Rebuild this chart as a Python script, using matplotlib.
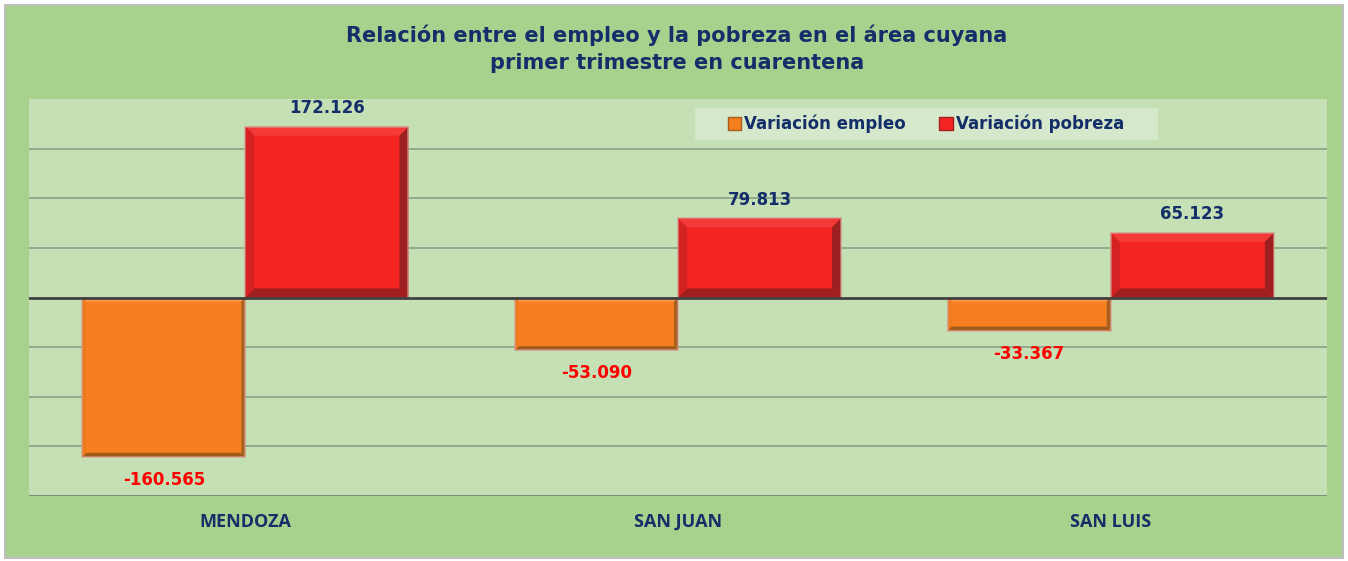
import numpy as np
import matplotlib
matplotlib.use('Agg')
import matplotlib.pyplot as plt
from matplotlib.patches import Rectangle, Polygon, Patch

# Data
provincias = ['MENDOZA', 'SAN JUAN', 'SAN LUIS']
var_empleo = [-160.565, -53.090, -33.367]
var_pobreza = [172.126, 79.813, 65.123]
series_names = ['Variación empleo', 'Variación pobreza']

titulo = 'Relación entre el empleo y la pobreza en el área cuyana\nprimer trimestre en cuarentena'

navy = '#132E68'
c_orange = '#F67F20'
c_red = '#F52523'

fig = plt.figure(figsize=(13.48, 5.61), dpi=100)
fig.patch.set_facecolor('white')
# outer green chart area with thin gray border
fig.patches.append(Rectangle((5 / 1348, 3 / 561), 1338 / 1348, 553 / 561,
                             transform=fig.transFigure, facecolor='#A9D18E',
                             edgecolor='#BFBFBF', linewidth=1.5, zorder=-5))

ax = fig.add_axes([29 / 1348, 1 - 496 / 561, 1298 / 1348, 397 / 561])
ax.set_facecolor('#C5E0B4')
ax.set_ylim(-200, 200)
ax.set_xlim(-0.5, 2.5)

x = np.arange(len(provincias))
w = 0.377
b1 = ax.bar(x - w / 2, var_empleo, w, color=c_orange, zorder=3)
b2 = ax.bar(x + w / 2, var_pobreza, w, color=c_red, zorder=3)

# gridlines
for yv in np.arange(-150, 200, 50):
    if yv == 0:
        continue
    ax.axhline(yv, color='#8FA58A', linewidth=1.3, zorder=1)
ax.axhline(0, color='#404040', linewidth=2, zorder=5)
ax.axhline(-200, color='#7F8F7A', linewidth=1.5, zorder=1)

ax.set_yticks([])
ax.set_xticks(x)
ax.set_xticklabels(provincias, fontsize=13, fontweight='bold', color=navy,
                   family=['Open Sans', 'DejaVu Sans'])
ax.tick_params(axis='x', length=0, pad=12)
for s in ax.spines.values():
    s.set_visible(False)

# bevel effect on bars (computed from bar geometry)
fig.canvas.draw()
to_disp = ax.transData
to_data = ax.transData.inverted()
# top, left, right, bottom facet colours and bevel depth in pixels
bevel = {'empleo': (('#F99E4E', '#EE7A1E', '#A8601E', '#A05A1C'), 4),
         'pobreza': (('#F43A36', '#D42222', '#9E1F1F', '#A01E1E'), 9)}
for bars, key in ((b1, 'empleo'), (b2, 'pobreza')):
    (top, left, right, bottom), d = bevel[key]
    for bar in bars:
        bx, by = bar.get_x(), bar.get_y()
        bw, bh = bar.get_width(), bar.get_height()
        (x0, y0) = to_disp.transform((bx, min(by, by + bh)))
        (x1, y1) = to_disp.transform((bx + bw, max(by, by + bh)))
        outer = [(x0, y1), (x1, y1), (x1, y0), (x0, y0)]
        inner = [(x0 + d, y1 - d), (x1 - d, y1 - d), (x1 - d, y0 + d), (x0 + d, y0 + d)]
        faces = [(top, [outer[0], outer[1], inner[1], inner[0]]),
                 (right, [outer[1], outer[2], inner[2], inner[1]]),
                 (bottom, [outer[2], outer[3], inner[3], inner[2]]),
                 (left, [outer[3], outer[0], inner[0], inner[3]])]
        for col, pts in faces:
            ax.add_patch(Polygon(to_data.transform(pts), closed=True, facecolor=col,
                                 edgecolor='none', zorder=4))
        ax.add_patch(Rectangle((bx, by), bw, bh, facecolor='none',
                               edgecolor='#D89A90', linewidth=1.2, alpha=0.7, zorder=4))

# value labels
for bars, vals in ((b1, var_empleo), (b2, var_pobreza)):
    for bar, v in zip(bars, vals):
        cx = bar.get_x() + bar.get_width() / 2
        if v < 0:
            ax.annotate(f'{v:.3f}', (cx, v), xytext=(0, -10), textcoords='offset points',
                        ha='center', va='top', color='#FF0000', fontsize=12,
                        fontweight='bold', zorder=6)
        else:
            ax.annotate(f'{v:.3f}', (cx, v), xytext=(0, 7), textcoords='offset points',
                        ha='center', va='bottom', color=navy, fontsize=12,
                        fontweight='bold', zorder=6)

# title
fig.text(677 / 1348, 1 - 49 / 561, titulo, ha='center', va='center', fontsize=15,
         fontweight='bold', color=navy, linespacing=1.45)

# legend
fig.patches.append(Rectangle((695 / 1348, 1 - 140 / 561), 463 / 1348, 32 / 561,
                             transform=fig.transFigure, facecolor='#D5E8CB',
                             edgecolor='none', zorder=2))
handles = [Patch(facecolor=c_orange, edgecolor='#A45A1C'),
           Patch(facecolor=c_red, edgecolor='#A31E1E')]
leg = fig.legend(handles, series_names, loc='center', ncol=2,
                 bbox_to_anchor=(926 / 1348, 1 - 124 / 561), frameon=False,
                 prop={'size': 12, 'weight': 'bold'}, handlelength=0.8,
                 handleheight=0.8, handletextpad=0.2, columnspacing=2.0)
for t in leg.get_texts():
    t.set_color(navy)
leg.set_zorder(10)

fig.savefig('out.png', dpi=100)
